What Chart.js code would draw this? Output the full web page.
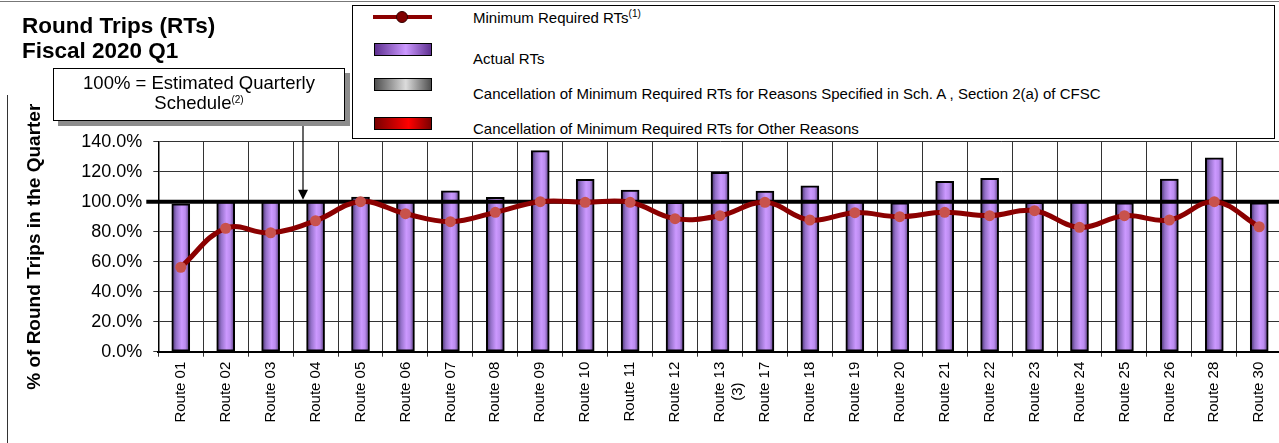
<!DOCTYPE html>
<html>
<head>
<meta charset="utf-8">
<script src="https://cdn.jsdelivr.net/npm/chart.js@4.4.1/dist/chart.umd.min.js"></script>
<style>
  body { margin: 0; width: 1279px; height: 443px; overflow: hidden; background: #fff; position: relative;
         font-family: "Liberation Sans", Arial, sans-serif; color: #000; }
  #wrap { position: absolute; left: 0; top: 0; width: 1310px; height: 443px; }
  .frameTop { position: absolute; left: 0; top: 1px; width: 1279px; border-top: 1px solid #777; }
  .frameLeft { position: absolute; left: 7px; top: 95px; height: 348px; border-left: 1px solid #333; }
  .title { position: absolute; left: 22px; top: 12.5px; font-weight: bold; font-size: 22.5px; line-height: 25px; }
  .note { position: absolute; left: 53px; top: 68px; width: 292px; height: 53px; box-sizing: border-box;
          border: 1.5px solid #000; box-shadow: 5px 5px 0 #8c8c8c; background: #fff;
          text-align: center; font-size: 18.5px; line-height: 20px; padding-top: 4px; }
  .note sup, .leg sup { font-size: 10px; vertical-align: 6px; line-height: 0; }
  .legbox { position: absolute; left: 352px; top: 4.5px; width: 923px; height: 134px; box-sizing: border-box;
            border: 1.5px solid #000; background: #fff; }
  .leg { position: absolute; left: 473px; font-size: 15px; line-height: 15px; white-space: nowrap; }
  .sw { position: absolute; left: 374px; width: 58px; height: 13px; box-sizing: border-box; border: 1px solid #000; }
  .lline { position: absolute; left: 373px; top: 15px; width: 59px; height: 4px; background: #8b0000; }
  .ldot { position: absolute; left: 396px; top: 11px; width: 12px; height: 12px; box-sizing: border-box;
          border-radius: 50%; background: #800000; border: 1px solid #300; }
</style>
</head>
<body>
<div id="wrap"><canvas id="rtChart"></canvas></div>
<div class="frameTop"></div>
<div class="frameLeft"></div>
<div class="title">Round Trips (RTs)<br>Fiscal 2020 Q1</div>
<div class="note">100% = Estimated Quarterly<br>Schedule<sup>(2)</sup></div>
<div class="legbox"></div>
<div class="lline"></div><div class="ldot"></div>
<div class="leg" style="top:9.5px">Minimum Required RTs<sup>(1)</sup></div>
<div class="sw" style="top:43px;background:linear-gradient(to right,#5e3090,#cc99ff 55%,#5e3090)"></div>
<div class="leg" style="top:50.5px">Actual RTs</div>
<div class="sw" style="top:78px;background:linear-gradient(to right,#505050,#dcdcdc 55%,#505050)"></div>
<div class="leg" style="top:85.5px">Cancellation of Minimum Required RTs for Reasons Specified in Sch. A , Section 2(a) of CFSC</div>
<div class="sw" style="top:117px;background:linear-gradient(to right,#7a0000,#ff0000 60%,#7a0000)"></div>
<div class="leg" style="top:120.5px">Cancellation of Minimum Required RTs for Other Reasons</div>

<script>
const routes = ["Route 01", "Route 02", "Route 03", "Route 04", "Route 05", "Route 06", "Route 07",
  "Route 08", "Route 09", "Route 10", "Route 11", "Route 12", ["Route 13", "(3)\u00a0\u00a0\u00a0\u00a0\u00a0"],
  "Route 17", "Route 18", "Route 19", "Route 20", "Route 21", "Route 22", "Route 23", "Route 24",
  "Route 25", "Route 26", "Route 28", "Route 30"];

// % of estimated quarterly schedule
const actualRTs = [98.5, 100, 100, 100, 103, 100, 107.3, 102.9, 134, 114.9, 107.8, 99.5, 119.6,
  107.1, 110.5, 100, 99.3, 113.6, 115.6, 99.5, 100, 99.3, 115.1, 129.3, 99.3];
const minRequiredRTs = [56.3, 82.3, 79.3, 87.3, 100, 92, 86.7, 92.9, 100, 99.6, 99.6, 88.7, 90.7,
  99.6, 87.8, 92.7, 90, 92.9, 90.7, 94, 82.9, 90.7, 87.8, 100, 83.3];

const scheduleLevel = 100;
const yMin = 0, yMax = 140, yStep = 20;

// purple cylinder look, one gradient per bar
function barFill(ctx) {
  const chart = ctx.chart;
  if (!chart.chartArea || ctx.dataIndex === undefined) return "#cc99ff";
  const x = chart.scales.x.getPixelForValue(ctx.dataIndex);
  const g = chart.ctx.createLinearGradient(x - 9, 0, x + 9, 0);
  g.addColorStop(0, "#3f2b62");
  g.addColorStop(0.25, "#9370c8");
  g.addColorStop(0.55, "#cc99ff");
  g.addColorStop(0.75, "#bb8cef");
  g.addColorStop(1, "#4e3674");
  return g;
}

// thick 100% line over the bars + arrow from the note box
const scheduleLine = {
  id: "scheduleLine",
  afterDatasetDraw(chart, args) {
    if (args.index !== 0) return;
    const { ctx, chartArea, scales } = chart;
    const py = scales.y.getPixelForValue(scheduleLevel);
    ctx.save();
    ctx.strokeStyle = "#000";
    ctx.lineWidth = 4;
    ctx.beginPath();
    ctx.moveTo(chartArea.left - 12, py);
    ctx.lineTo(chartArea.right, py);
    ctx.stroke();
    // arrow
    ctx.lineWidth = 1.2;
    ctx.beginPath();
    ctx.moveTo(303, 121);
    ctx.lineTo(303, py - 10);
    ctx.stroke();
    ctx.fillStyle = "#000";
    ctx.beginPath();
    ctx.moveTo(298, py - 12);
    ctx.lineTo(308, py - 12);
    ctx.lineTo(303, py - 2);
    ctx.closePath();
    ctx.fill();
    ctx.restore();
  }
};

new Chart(document.getElementById("rtChart"), {
  data: {
    labels: routes,
    datasets: [
      {
        type: "bar",
        label: "Actual RTs",
        data: actualRTs,
        order: 1,
        barThickness: 18,
        backgroundColor: barFill,
        borderColor: "#000",
        borderWidth: 2,
        borderSkipped: false
      },
      {
        type: "line",
        label: "Minimum Required RTs",
        data: minRequiredRTs,
        order: 0,
        borderColor: "#8b0000",
        borderWidth: 5,
        tension: 0.4,
        pointRadius: 5.5,
        pointHoverRadius: 5.5,
        pointBackgroundColor: "#c8524c",
        pointBorderWidth: 0
      }
    ]
  },
  options: {
    responsive: true,
    maintainAspectRatio: false,
    animation: false,
    layout: { padding: { left: 0, top: 141.7, right: 28.3, bottom: 0 } },
    plugins: { legend: { display: false }, tooltip: { enabled: false } },
    scales: {
      x: {
        grid: { offset: true, color: "#333", lineWidth: 1, tickLength: 5 },
        border: { color: "#000", width: 2 },
        ticks: {
          color: "#000",
          font: { family: "Liberation Sans", size: 15 },
          minRotation: 90, maxRotation: 90, autoSkip: false, padding: 5
        },
        afterFit(s) { s.height = 91.3; }
      },
      y: {
        min: yMin, max: yMax,
        ticks: {
          stepSize: yStep,
          color: "#000",
          font: { family: "Liberation Sans", size: 18 },
          padding: 11,
          callback: (v) => v.toFixed(1) + "%"
        },
        grid: { color: "#333", lineWidth: 1, tickLength: 5 },
        border: { color: "#000", width: 1.5 },
        title: {
          display: true,
          text: "% of Round Trips in the Quarter",
          color: "#000",
          font: { family: "Liberation Sans", size: 19, weight: "bold" },
          padding: { top: 23.6, bottom: 0 }
        },
        afterFit(s) { s.width = 158.3; }
      }
    }
  },
  plugins: [scheduleLine]
});
</script>
</body>
</html>
